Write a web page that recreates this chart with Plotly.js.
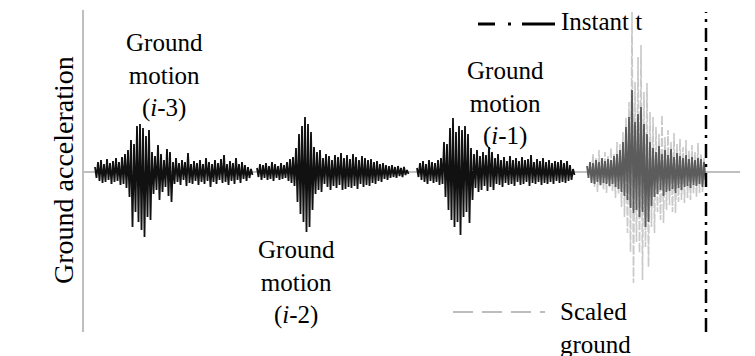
<!DOCTYPE html>
<html><head><meta charset="utf-8">
<script src="https://cdn.plot.ly/plotly-3.0.1.min.js"></script>
</head><body style="margin:0"><div id="chart"></div>
<script>
// Ground-motion records (acceleration, arbitrary units), sampled every DT time units
const DT = 0.15;
const accI3 = [5,-6,10,-9,12,-11,8,-10,13,-8,9,-12,11,-10,14,-9,10,-13,15,-12,18,-16,22,-25,32,-55,28,-40,46,-50,48,-58,44,-65,36,-45,42,-48,20,-22,16,-18,27,-28,18,-20,12,-15,23,-24,20,-30,10,-12,14,-10,9,-13,12,-8,10,-14,19,-11,8,-12,11,-9,9,-13,12,-10,8,-12,14,-9,10,-15,8,-10,12,-12,9,-8,13,-11,17,-10,8,-13,11,-9,9,-12,14,-8,8,-11,10,-7,7,-9,5,-6,3,-3];
const accI2 = [4,-5,8,-8,7,-6,9,-8,6,-7,10,-9,8,-6,6,-8,9,-7,7,-6,10,-9,13,-11,15,-14,24,-30,38,-42,46,-50,55,-60,48,-55,40,-38,25,-22,20,-18,22,-20,14,-12,18,-15,16,-18,12,-14,17,-16,15,-13,19,-18,14,-17,17,-15,13,-16,18,-14,15,-17,12,-12,16,-15,14,-13,12,-14,13,-11,10,-12,11,-9,8,-10,9,-7,7,-8,6,-6,7,-5,5,-6,6,-4,4,-5,5,-3,2,-2];
const accI1 = [4,-5,9,-8,11,-10,8,-12,12,-9,10,-11,9,-10,12,-13,14,-12,30,-25,28,-38,44,-48,54,-55,40,-50,46,-63,42,-45,46,-40,38,-51,24,-28,18,-16,22,-20,16,-18,20,-14,17,-19,25,-15,20,-18,14,-12,18,-13,12,-15,15,-11,11,-13,16,-12,12,-14,14,-10,11,-13,15,-12,12,-10,13,-14,17,-11,10,-12,13,-10,11,-13,14,-11,10,-12,12,-10,9,-12,11,-9,10,-11,12,-10,9,-11,11,-9,7,-8,3,-3];
const accI = [6,-6,10,-11,9,-12,12,-10,10,-13,14,-11,11,-12,13,-14,12,-12,16,-15,18,-17,22,-20,30,-24,45,-28,55,-36,82,-41,50,-38,58,-45,65,-40,48,-55,38,-50,30,-34,24,-25,20,-22,26,-18,18,-24,22,-20,17,-19,23,-17,15,-21,19,-16,16,-18,14,-15,17,-14,13,-16,15,-13,12,-14,14,-12,13,-15,10,-8];
const accScaled = [10,-8,18,-15,14,-20,22,-14,12,-18,20,-21,16,-15,24,-19,18,-26,30,-22,28,-35,40,-45,55,-61,70,-80,160,-111,90,-70,115,-81,127,-108,80,-75,89,-95,60,-55,55,-61,45,-40,38,-48,57,-51,35,-38,42,-33,30,-40,39,-41,28,-30,33,-28,25,-31,32,-26,22,-28,27,-22,20,-25,29,-21,18,-20,14,-12];
// record start times
const startI3 = 1.1, startI2 = 17.3, startI1 = 33.3, startI = 50.3, startScaled = 50.6;
const instantT = 62.2;
const labels = ["Ground<br>motion<br>(<i>i</i>-3)", "Ground<br>motion<br>(<i>i</i>-2)", "Ground<br>motion<br>(<i>i</i>-1)"];
const yTitle = "Ground acceleration";
const legendInstant = "Instant t";
const legendScaled = "Scaled<br>ground";

const L = 84, R = 740, T = 10, B = 332;
const fx = p => (p - L) / (R - L);
const fy = p => (B - p) / (B - T);

function sig(vals, start, color, width, dash) {
  return {type: 'scatter', mode: 'lines', x: vals.map((v, k) => start + k * DT), y: vals,
    line: {color: color, width: width, dash: dash || 'solid'}, hoverinfo: 'skip'};
}
const data = [
  sig(accI3, startI3, '#111', 1.8),
  sig(accI2, startI2, '#111', 1.8),
  sig(accI1, startI1, '#111', 1.8),
  sig(accScaled, startScaled, '#c9c9c9', 1.6, '9px,2px'),
  sig(accI, startI, '#5c5c5c', 1.8)
];
function txt(text, x, y, xanchor, size, extra) {
  return Object.assign({text: text, x: fx(x), y: fy(y), xref: 'paper', yref: 'paper', xanchor: xanchor,
    yanchor: 'middle', showarrow: false, align: xanchor === 'left' ? 'left' : 'center',
    font: {family: 'Liberation Serif', size: size, color: '#000'}}, extra || {});
}

const layout = {
  width: 755, height: 356, showlegend: false,
  margin: {l: L, r: 755 - R, t: T, b: 356 - B, pad: 0},
  paper_bgcolor: '#fff', plot_bgcolor: '#fff',
  xaxis: {range: [0, 65.6], showline: false, zeroline: false, showgrid: false, showticklabels: false, ticks: ''},
  yaxis: {range: [-160, 162], showline: true, linecolor: '#bfbfbf', linewidth: 2, zeroline: true,
    zerolinecolor: '#bfbfbf', zerolinewidth: 2, showgrid: false, showticklabels: false, ticks: ''},
  shapes: [
    {type: 'line', xref: 'x', yref: 'paper', x0: instantT, x1: instantT, y0: 0, y1: fy(12),
      line: {color: '#000', width: 2.5, dash: '14px,6px,3px,6px'}},
    {type: 'line', xref: 'paper', yref: 'paper', x0: fx(478), x1: fx(555), y0: fy(24), y1: fy(24),
      line: {color: '#000', width: 3, dash: '17px,13px,3px,11px,33px'}},
    {type: 'line', xref: 'paper', yref: 'paper', x0: fx(453), x1: fx(545), y0: fy(312), y1: fy(312),
      line: {color: '#bdbdbd', width: 2, dash: '20px,9px'}}
  ],
  annotations: [
    txt(labels[0], 164, 75, 'center', 25),
    txt(labels[1], 296, 282, 'center', 25),
    txt(labels[2], 505, 103, 'center', 25),
    txt(yTitle, 63, 170, 'center', 28, {textangle: -90}),
    txt(legendInstant, 559, 22, 'left', 25),
    txt(legendScaled, 558, 328, 'left', 25)
  ]
};
Plotly.newPlot('chart', data, layout, {displayModeBar: false});
</script></body></html>
